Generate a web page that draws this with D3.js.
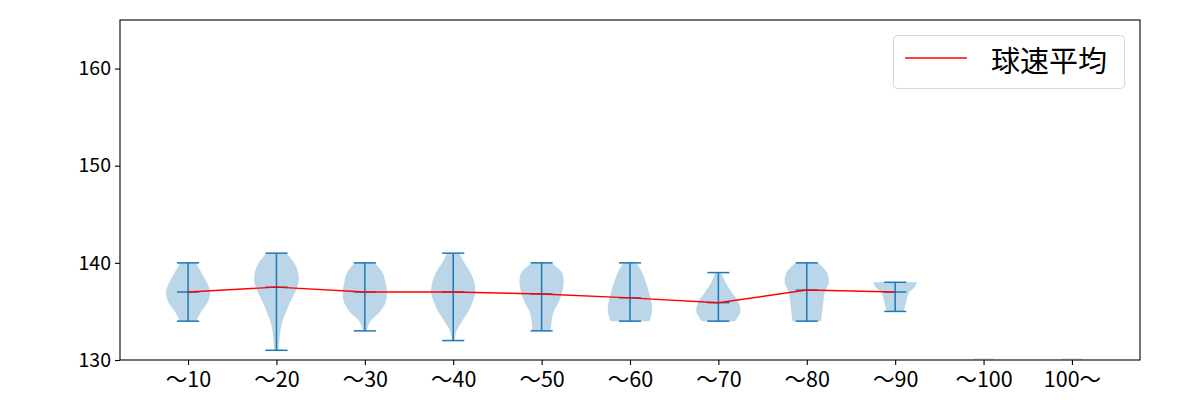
<!DOCTYPE html>
<html><head><meta charset="utf-8">
<script src="https://cdn.jsdelivr.net/npm/d3@7"></script>
<style>body{margin:0;background:#fff}svg{display:block}text{font-family:"Noto Sans CJK JP","Noto Sans",sans-serif}</style>
</head><body><svg id="c" width="1200" height="400"></svg>
<script>
const categories = ["～10","～20","～30","～40","～50","～60","～70","～80","～90","～100","100～"];
const means = [137.0, 137.5, 137.0, 137.0, 136.8, 136.4, 135.9, 137.2, 137.0, null, null];
const mins  = [134, 131, 133, 132, 133, 134, 134, 134, 135, 128, 128];
const maxs  = [140, 141, 140, 141, 140, 140, 139, 140, 138, 130.2, 130.2];
// relative half-widths of each violin, evenly spaced from min to max
const profiles = [
  [0.36, 0.6, 0.9, 1.0, 0.85, 0.6, 0.35],
  [0.1, 0.13, 0.18, 0.28, 0.45, 0.63, 0.85, 1.0, 0.98, 0.8, 0.45],
  [0.08, 0.25, 0.7, 0.95, 1.0, 0.93, 0.8, 0.45],
  [0.06, 0.15, 0.4, 0.68, 0.88, 1.0, 0.95, 0.78, 0.5, 0.28],
  [0.42, 0.45, 0.55, 0.78, 0.93, 1.0, 0.92, 0.42],
  [0.88, 1.0, 0.97, 0.85, 0.72, 0.55, 0.3],
  [0.75, 1.0, 0.9, 0.6, 0.32, 0.14],
  [0.65, 0.7, 0.75, 0.82, 1.0, 0.92, 0.5],
  [0.38, 0.45, 0.5, 0.55, 0.65, 0.88, 1.0],
  [0.45, 0.45, 0.45],
  [0.45, 0.45, 0.45]
];
const yTicks = [130, 140, 150, 160];
const legendLabel = "球速平均";

const svg = d3.select("#c");
const L = 120, R = 1140, T = 20, B = 360;
const x = d3.scaleLinear().domain([0.23, 11.77]).range([L, R]);
const y = d3.scaleLinear().domain([130, 165]).range([B, T]);
const pos = categories.map((c, i) => i + 1);
const halfW = x(1.25) - x(1);
const capW = x(1.125) - x(1);
const blue = "#1f77b4";

svg.append("defs").append("clipPath").attr("id", "clip")
  .append("rect").attr("x", L).attr("y", T).attr("width", R - L).attr("height", B - T);
const g = svg.append("g").attr("clip-path", "url(#clip)");

categories.forEach((c, i) => {
  const p = profiles[i];
  const pts = p.map((w, k) => ({v: mins[i] + k * (maxs[i] - mins[i]) / (p.length - 1), w}));
  const area = d3.area()
    .y(d => y(d.v))
    .x0(d => x(pos[i]) - d.w * halfW)
    .x1(d => x(pos[i]) + d.w * halfW)
    .curve(d3.curveCatmullRom);
  g.append("path").attr("d", area(pts)).attr("fill", blue)
    .attr("fill-opacity", means[i] == null ? 0.15 : 0.3);
});

categories.forEach((c, i) => {
  if (means[i] == null) return;
  const cx = x(pos[i]);
  g.append("line").attr("x1", cx).attr("x2", cx).attr("y1", y(mins[i])).attr("y2", y(maxs[i]))
    .attr("stroke", blue).attr("stroke-width", 1.5);
  [mins[i], maxs[i], means[i]].forEach(v => {
    g.append("line").attr("x1", cx - capW).attr("x2", cx + capW).attr("y1", y(v)).attr("y2", y(v))
      .attr("stroke", blue).attr("stroke-width", 1.5);
  });
});

const lineData = pos.map((p, i) => ({p, m: means[i]})).filter(d => d.m != null);
g.append("path").attr("d", d3.line().x(d => x(d.p)).y(d => y(d.m))(lineData))
  .attr("fill", "none").attr("stroke", "red").attr("stroke-width", 1.4);

// axes
const xAxis = svg.append("g").attr("transform", `translate(0,${B})`)
  .call(d3.axisBottom(x).tickValues(pos).tickFormat((d, i) => categories[i]).tickSizeOuter(0).tickSize(5).tickPadding(4));
const yAxis = svg.append("g").attr("transform", `translate(${L},0)`)
  .call(d3.axisLeft(y).tickValues(yTicks).tickSizeOuter(0).tickSize(5).tickPadding(4));
[xAxis, yAxis].forEach(a => {
  a.selectAll("text").attr("fill", "#000").style("font-family", '"Noto Sans CJK JP", sans-serif');
  a.selectAll("line").attr("stroke", "#000").attr("stroke-width", 1.1);
  a.select(".domain").remove();
});
xAxis.selectAll("text").style("font-size", "21.5px").attr("dy", "0.85em");
yAxis.selectAll("text").style("font-size", "19.5px");
svg.append("rect").attr("x", L).attr("y", T).attr("width", R - L).attr("height", B - T)
  .attr("fill", "none").attr("stroke", "#000").attr("stroke-width", 1.1);

// legend
const lg = svg.append("g");
lg.append("rect").attr("x", 893.5).attr("y", 35.5).attr("width", 231).attr("height", 53).attr("rx", 4)
  .attr("fill", "#fff").attr("fill-opacity", 0.8).attr("stroke", "#d6d6d6").attr("stroke-width", 1);
lg.append("line").attr("x1", 905).attr("x2", 967).attr("y1", 58).attr("y2", 58)
  .attr("stroke", "red").attr("stroke-width", 1.4);
lg.append("text").attr("x", 991).attr("y", 59).attr("dominant-baseline", "central")
  .style("font-size", "29px").attr("fill", "#000").text(legendLabel);
</script></body></html>
